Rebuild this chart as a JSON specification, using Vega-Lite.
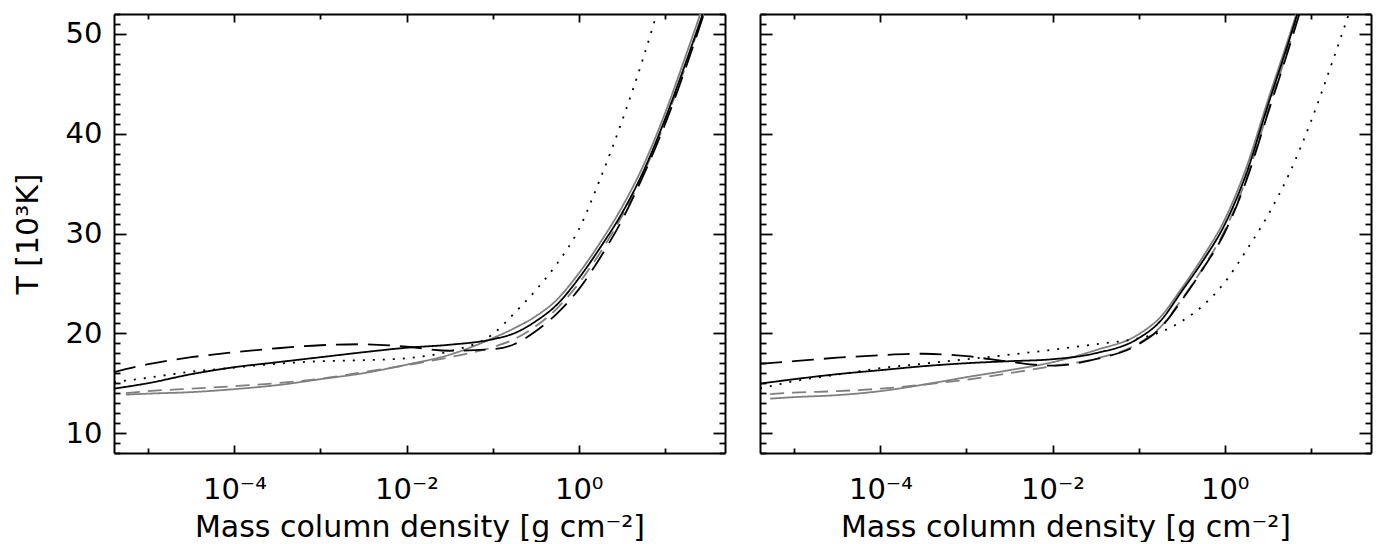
{
  "$schema": "https://vega.github.io/schema/vega-lite/v6.json",
  "padding": {"left": 13, "top": 0, "right": 2, "bottom": 0},
  "data": {"values": [
    {"p":"a","s":"bs","x":4e-6,"T":14.45},{"p":"a","s":"bs","x":1e-5,"T":15.0},{"p":"a","s":"bs","x":3.16e-5,"T":15.9},{"p":"a","s":"bs","x":1e-4,"T":16.6},{"p":"a","s":"bs","x":3.16e-4,"T":17.1},{"p":"a","s":"bs","x":1e-3,"T":17.6},{"p":"a","s":"bs","x":3.16e-3,"T":18.1},{"p":"a","s":"bs","x":0.01,"T":18.55},{"p":"a","s":"bs","x":0.0316,"T":18.85},{"p":"a","s":"bs","x":0.1,"T":19.4},{"p":"a","s":"bs","x":0.178,"T":20.0},{"p":"a","s":"bs","x":0.316,"T":21.2},{"p":"a","s":"bs","x":0.562,"T":22.9},{"p":"a","s":"bs","x":1,"T":25.5},{"p":"a","s":"bs","x":1.78,"T":28.6},{"p":"a","s":"bs","x":3.16,"T":32.0},{"p":"a","s":"bs","x":5.62,"T":36.2},{"p":"a","s":"bs","x":10,"T":41.4},{"p":"a","s":"bs","x":17.8,"T":47.3},{"p":"a","s":"bs","x":31.6,"T":53.5},
    {"p":"a","s":"bd","x":4e-6,"T":16.1},{"p":"a","s":"bd","x":1e-5,"T":16.9},{"p":"a","s":"bd","x":3.16e-5,"T":17.6},{"p":"a","s":"bd","x":1e-4,"T":18.1},{"p":"a","s":"bd","x":3.16e-4,"T":18.5},{"p":"a","s":"bd","x":1e-3,"T":18.8},{"p":"a","s":"bd","x":3.16e-3,"T":18.9},{"p":"a","s":"bd","x":0.01,"T":18.65},{"p":"a","s":"bd","x":0.0316,"T":18.25},{"p":"a","s":"bd","x":0.1,"T":18.4},{"p":"a","s":"bd","x":0.178,"T":18.9},{"p":"a","s":"bd","x":0.316,"T":20.2},{"p":"a","s":"bd","x":0.562,"T":22.0},{"p":"a","s":"bd","x":1,"T":24.4},{"p":"a","s":"bd","x":1.78,"T":27.6},{"p":"a","s":"bd","x":3.16,"T":31.3},{"p":"a","s":"bd","x":5.62,"T":35.8},{"p":"a","s":"bd","x":10,"T":40.9},{"p":"a","s":"bd","x":17.8,"T":46.8},{"p":"a","s":"bd","x":31.6,"T":53.2},
    {"p":"a","s":"dot","x":4e-6,"T":15.1},{"p":"a","s":"dot","x":1e-5,"T":15.55},{"p":"a","s":"dot","x":3.16e-5,"T":16.15},{"p":"a","s":"dot","x":1e-4,"T":16.55},{"p":"a","s":"dot","x":3.16e-4,"T":16.95},{"p":"a","s":"dot","x":1e-3,"T":17.2},{"p":"a","s":"dot","x":3.16e-3,"T":17.3},{"p":"a","s":"dot","x":0.01,"T":17.5},{"p":"a","s":"dot","x":0.0316,"T":18.2},{"p":"a","s":"dot","x":0.1,"T":19.9},{"p":"a","s":"dot","x":0.178,"T":22.0},{"p":"a","s":"dot","x":0.316,"T":24.3},{"p":"a","s":"dot","x":0.562,"T":27.0},{"p":"a","s":"dot","x":1,"T":30.4},{"p":"a","s":"dot","x":1.78,"T":35.5},{"p":"a","s":"dot","x":3.16,"T":41.2},{"p":"a","s":"dot","x":5.62,"T":47.6},{"p":"a","s":"dot","x":10,"T":54.8},
    {"p":"a","s":"gs","x":5.5e-6,"T":13.85},{"p":"a","s":"gs","x":1e-5,"T":13.95},{"p":"a","s":"gs","x":3.16e-5,"T":14.1},{"p":"a","s":"gs","x":1e-4,"T":14.4},{"p":"a","s":"gs","x":3.16e-4,"T":14.8},{"p":"a","s":"gs","x":1e-3,"T":15.4},{"p":"a","s":"gs","x":3.16e-3,"T":16.0},{"p":"a","s":"gs","x":0.01,"T":16.85},{"p":"a","s":"gs","x":0.0316,"T":17.85},{"p":"a","s":"gs","x":0.1,"T":19.5},{"p":"a","s":"gs","x":0.178,"T":20.5},{"p":"a","s":"gs","x":0.316,"T":21.7},{"p":"a","s":"gs","x":0.562,"T":23.4},{"p":"a","s":"gs","x":1,"T":26.0},{"p":"a","s":"gs","x":1.78,"T":29.1},{"p":"a","s":"gs","x":3.16,"T":32.6},{"p":"a","s":"gs","x":5.62,"T":36.8},{"p":"a","s":"gs","x":10,"T":42.0},{"p":"a","s":"gs","x":17.8,"T":48.0},{"p":"a","s":"gs","x":31.6,"T":54.2},
    {"p":"a","s":"gd","x":5.5e-6,"T":14.0},{"p":"a","s":"gd","x":1e-5,"T":14.2},{"p":"a","s":"gd","x":3.16e-5,"T":14.45},{"p":"a","s":"gd","x":1e-4,"T":14.7},{"p":"a","s":"gd","x":3.16e-4,"T":15.0},{"p":"a","s":"gd","x":1e-3,"T":15.45},{"p":"a","s":"gd","x":3.16e-3,"T":16.1},{"p":"a","s":"gd","x":0.01,"T":16.8},{"p":"a","s":"gd","x":0.0316,"T":17.6},{"p":"a","s":"gd","x":0.1,"T":18.6},{"p":"a","s":"gd","x":0.178,"T":19.4},{"p":"a","s":"gd","x":0.316,"T":20.7},{"p":"a","s":"gd","x":0.562,"T":22.5},{"p":"a","s":"gd","x":1,"T":25.0},{"p":"a","s":"gd","x":1.78,"T":28.1},{"p":"a","s":"gd","x":3.16,"T":31.7},{"p":"a","s":"gd","x":5.62,"T":36.0},{"p":"a","s":"gd","x":10,"T":41.1},{"p":"a","s":"gd","x":17.8,"T":47.0},{"p":"a","s":"gd","x":31.6,"T":53.4},
    {"p":"b","s":"bs","x":4e-6,"T":14.95},{"p":"b","s":"bs","x":1e-5,"T":15.4},{"p":"b","s":"bs","x":3.16e-5,"T":15.9},{"p":"b","s":"bs","x":1e-4,"T":16.3},{"p":"b","s":"bs","x":3.16e-4,"T":16.7},{"p":"b","s":"bs","x":1e-3,"T":17.0},{"p":"b","s":"bs","x":3.16e-3,"T":17.2},{"p":"b","s":"bs","x":0.01,"T":17.4},{"p":"b","s":"bs","x":0.0316,"T":18.0},{"p":"b","s":"bs","x":0.1,"T":19.5},{"p":"b","s":"bs","x":0.178,"T":21.2},{"p":"b","s":"bs","x":0.316,"T":24.2},{"p":"b","s":"bs","x":0.562,"T":27.3},{"p":"b","s":"bs","x":1,"T":30.9},{"p":"b","s":"bs","x":1.78,"T":36.0},{"p":"b","s":"bs","x":3.16,"T":42.8},{"p":"b","s":"bs","x":5.62,"T":49.4},{"p":"b","s":"bs","x":10,"T":56.5},
    {"p":"b","s":"bd","x":4e-6,"T":16.95},{"p":"b","s":"bd","x":1e-5,"T":17.2},{"p":"b","s":"bd","x":3.16e-5,"T":17.55},{"p":"b","s":"bd","x":1e-4,"T":17.8},{"p":"b","s":"bd","x":3.16e-4,"T":17.95},{"p":"b","s":"bd","x":1e-3,"T":17.7},{"p":"b","s":"bd","x":3.16e-3,"T":17.15},{"p":"b","s":"bd","x":0.01,"T":16.75},{"p":"b","s":"bd","x":0.0316,"T":17.4},{"p":"b","s":"bd","x":0.1,"T":18.9},{"p":"b","s":"bd","x":0.178,"T":20.5},{"p":"b","s":"bd","x":0.316,"T":23.3},{"p":"b","s":"bd","x":0.562,"T":26.5},{"p":"b","s":"bd","x":1,"T":30.1},{"p":"b","s":"bd","x":1.78,"T":35.3},{"p":"b","s":"bd","x":3.16,"T":42.0},{"p":"b","s":"bd","x":5.62,"T":48.7},{"p":"b","s":"bd","x":10,"T":55.8},
    {"p":"b","s":"dot","x":4e-6,"T":14.45},{"p":"b","s":"dot","x":1e-5,"T":15.2},{"p":"b","s":"dot","x":3.16e-5,"T":15.85},{"p":"b","s":"dot","x":1e-4,"T":16.5},{"p":"b","s":"dot","x":3.16e-4,"T":16.95},{"p":"b","s":"dot","x":1e-3,"T":17.4},{"p":"b","s":"dot","x":3.16e-3,"T":17.85},{"p":"b","s":"dot","x":0.01,"T":18.35},{"p":"b","s":"dot","x":0.0316,"T":18.9},{"p":"b","s":"dot","x":0.1,"T":19.5},{"p":"b","s":"dot","x":0.178,"T":20.1},{"p":"b","s":"dot","x":0.316,"T":21.2},{"p":"b","s":"dot","x":0.562,"T":22.8},{"p":"b","s":"dot","x":1,"T":25.1},{"p":"b","s":"dot","x":1.78,"T":28.3},{"p":"b","s":"dot","x":3.16,"T":31.8},{"p":"b","s":"dot","x":5.62,"T":36.0},{"p":"b","s":"dot","x":10,"T":41.2},{"p":"b","s":"dot","x":17.8,"T":47.2},{"p":"b","s":"dot","x":31.6,"T":53.5},
    {"p":"b","s":"gs","x":5.25e-6,"T":13.45},{"p":"b","s":"gs","x":1e-5,"T":13.6},{"p":"b","s":"gs","x":3.16e-5,"T":13.8},{"p":"b","s":"gs","x":1e-4,"T":14.2},{"p":"b","s":"gs","x":3.16e-4,"T":14.85},{"p":"b","s":"gs","x":1e-3,"T":15.6},{"p":"b","s":"gs","x":3.16e-3,"T":16.3},{"p":"b","s":"gs","x":0.01,"T":17.1},{"p":"b","s":"gs","x":0.0316,"T":18.3},{"p":"b","s":"gs","x":0.1,"T":19.9},{"p":"b","s":"gs","x":0.178,"T":21.6},{"p":"b","s":"gs","x":0.316,"T":24.5},{"p":"b","s":"gs","x":0.562,"T":27.7},{"p":"b","s":"gs","x":1,"T":31.4},{"p":"b","s":"gs","x":1.78,"T":36.6},{"p":"b","s":"gs","x":3.16,"T":43.3},{"p":"b","s":"gs","x":5.62,"T":49.8},{"p":"b","s":"gs","x":10,"T":56.5},
    {"p":"b","s":"gd","x":5.25e-6,"T":13.9},{"p":"b","s":"gd","x":1e-5,"T":14.05},{"p":"b","s":"gd","x":3.16e-5,"T":14.2},{"p":"b","s":"gd","x":1e-4,"T":14.45},{"p":"b","s":"gd","x":3.16e-4,"T":14.85},{"p":"b","s":"gd","x":1e-3,"T":15.35},{"p":"b","s":"gd","x":3.16e-3,"T":16.0},{"p":"b","s":"gd","x":0.01,"T":16.7},{"p":"b","s":"gd","x":0.0316,"T":17.45},{"p":"b","s":"gd","x":0.1,"T":19.0},{"p":"b","s":"gd","x":0.178,"T":20.6},{"p":"b","s":"gd","x":0.316,"T":23.4},{"p":"b","s":"gd","x":0.562,"T":26.6},{"p":"b","s":"gd","x":1,"T":30.3},{"p":"b","s":"gd","x":1.78,"T":35.5},{"p":"b","s":"gd","x":3.16,"T":42.2},{"p":"b","s":"gd","x":5.62,"T":48.9},{"p":"b","s":"gd","x":10,"T":55.8}
  ]},
  "spacing": 33,
  "hconcat": [
    {
      "width": 611, "height": 439,
      "transform": [{"filter": "datum.p == 'a'"}],
      "encoding": {
        "strokeDash": {"field": "s", "type": "nominal", "scale": {"domain": ["bs","bd","dot","gs","gd"], "range": [[1,0],[22,10],[2,8],[1,0],[14,8]]}, "legend": null},
        "strokeWidth": {"field": "s", "type": "nominal", "scale": {"domain": ["bs","bd","dot","gs","gd"], "range": [1.8,1.8,2.3,2,2]}, "legend": null}
      },
      "layer": [
        {
          "transform": [{"filter": "datum.s == 'gs' || datum.s == 'gd'"}],
          "mark": {"type": "line", "color": "#7f7f7f", "clip": true, "interpolate": "monotone"},
          "encoding": {
            "x": {"field": "x", "type": "quantitative", "scale": {"type": "log", "domain": [4e-6, 50], "nice": false},
              "axis": {"orient": "bottom", "values": [1e-5,1e-4,1e-3,0.01,0.1,1,10],
                "tickSize": {"condition": {"test": "round(log(datum.value)/LN10) % 2 == 0", "value": -8}, "value": -5},
                "labelExpr": "datum.value == 1e-4 ? '10⁻⁴' : datum.value == 0.01 ? '10⁻²' : datum.value == 1 ? '10⁰' : ''",
                "labelPadding": 30, "title": "Mass column density [g cm⁻²]", "titlePadding": 5}},
            "y": {"field": "T", "type": "quantitative", "scale": {"domain": [8, 52], "nice": false, "zero": false},
              "axis": {"orient": "left", "values": [8,9,10,11,12,13,14,15,16,17,18,19,20,21,22,23,24,25,26,27,28,29,30,31,32,33,34,35,36,37,38,39,40,41,42,43,44,45,46,47,48,49,50,51,52],
                "tickSize": {"condition": {"test": "datum.value % 10 == 0", "value": -12}, "value": -6},
                "labelExpr": "datum.value % 10 == 0 ? datum.label : ''",
                "labelPadding": 24, "title": "T [10³K]", "titlePadding": 22}}
          }
        },
        {
          "transform": [{"filter": "datum.s == 'bs' || datum.s == 'bd' || datum.s == 'dot'"}],
          "mark": {"type": "line", "color": "#000000", "clip": true, "interpolate": "monotone"},
          "encoding": {
            "x": {"field": "x", "type": "quantitative", "scale": {"type": "log", "domain": [4e-6, 50], "nice": false},
              "axis": {"orient": "top", "values": [1e-5,1e-4,1e-3,0.01,0.1,1,10],
                "tickSize": {"condition": {"test": "round(log(datum.value)/LN10) % 2 == 0", "value": -8}, "value": -5},
                "labels": false, "title": null}},
            "y": {"field": "T", "type": "quantitative", "scale": {"domain": [8, 52], "nice": false, "zero": false},
              "axis": {"orient": "right", "values": [8,9,10,11,12,13,14,15,16,17,18,19,20,21,22,23,24,25,26,27,28,29,30,31,32,33,34,35,36,37,38,39,40,41,42,43,44,45,46,47,48,49,50,51,52],
                "tickSize": {"condition": {"test": "datum.value % 10 == 0", "value": -12}, "value": -6},
                "labels": false, "title": null}}
          }
        }
      ],
      "resolve": {"axis": {"x": "independent", "y": "independent"}}
    },
    {
      "width": 611, "height": 439,
      "transform": [{"filter": "datum.p == 'b'"}],
      "encoding": {
        "strokeDash": {"field": "s", "type": "nominal", "scale": {"domain": ["bs","bd","dot","gs","gd"], "range": [[1,0],[22,10],[2,8],[1,0],[14,8]]}, "legend": null},
        "strokeWidth": {"field": "s", "type": "nominal", "scale": {"domain": ["bs","bd","dot","gs","gd"], "range": [1.8,1.8,2.3,2,2]}, "legend": null}
      },
      "layer": [
        {
          "transform": [{"filter": "datum.s == 'gs' || datum.s == 'gd'"}],
          "mark": {"type": "line", "color": "#7f7f7f", "clip": true, "interpolate": "monotone"},
          "encoding": {
            "x": {"field": "x", "type": "quantitative", "scale": {"type": "log", "domain": [4e-6, 50], "nice": false},
              "axis": {"orient": "bottom", "values": [1e-5,1e-4,1e-3,0.01,0.1,1,10],
                "tickSize": {"condition": {"test": "round(log(datum.value)/LN10) % 2 == 0", "value": -8}, "value": -5},
                "labelExpr": "datum.value == 1e-4 ? '10⁻⁴' : datum.value == 0.01 ? '10⁻²' : datum.value == 1 ? '10⁰' : ''",
                "labelPadding": 30, "title": "Mass column density [g cm⁻²]", "titlePadding": 5}},
            "y": {"field": "T", "type": "quantitative", "scale": {"domain": [8, 52], "nice": false, "zero": false},
              "axis": {"orient": "left", "values": [8,9,10,11,12,13,14,15,16,17,18,19,20,21,22,23,24,25,26,27,28,29,30,31,32,33,34,35,36,37,38,39,40,41,42,43,44,45,46,47,48,49,50,51,52],
                "tickSize": {"condition": {"test": "datum.value % 10 == 0", "value": -12}, "value": -6},
                "labels": false, "title": null}}
          }
        },
        {
          "transform": [{"filter": "datum.s == 'bs' || datum.s == 'bd' || datum.s == 'dot'"}],
          "mark": {"type": "line", "color": "#000000", "clip": true, "interpolate": "monotone"},
          "encoding": {
            "x": {"field": "x", "type": "quantitative", "scale": {"type": "log", "domain": [4e-6, 50], "nice": false},
              "axis": {"orient": "top", "values": [1e-5,1e-4,1e-3,0.01,0.1,1,10],
                "tickSize": {"condition": {"test": "round(log(datum.value)/LN10) % 2 == 0", "value": -8}, "value": -5},
                "labels": false, "title": null}},
            "y": {"field": "T", "type": "quantitative", "scale": {"domain": [8, 52], "nice": false, "zero": false},
              "axis": {"orient": "right", "values": [8,9,10,11,12,13,14,15,16,17,18,19,20,21,22,23,24,25,26,27,28,29,30,31,32,33,34,35,36,37,38,39,40,41,42,43,44,45,46,47,48,49,50,51,52],
                "tickSize": {"condition": {"test": "datum.value % 10 == 0", "value": -12}, "value": -6},
                "labels": false, "title": null}}
          }
        }
      ],
      "resolve": {"axis": {"x": "independent", "y": "independent"}}
    }
  ],
  "config": {
    "view": {"stroke": null},
    "axis": {"domainColor": "#000000", "domainWidth": 2, "tickColor": "#000000", "tickWidth": 1.8, "grid": false,
      "labelFont": "DejaVu Sans", "labelFontSize": 29, "labelColor": "#000000", "labelFlush": false, "labelOverlap": false, "labelBound": false,
      "titleFont": "DejaVu Sans", "titleFontSize": 30, "titleFontWeight": "normal", "titleColor": "#000000"}
  }
}
